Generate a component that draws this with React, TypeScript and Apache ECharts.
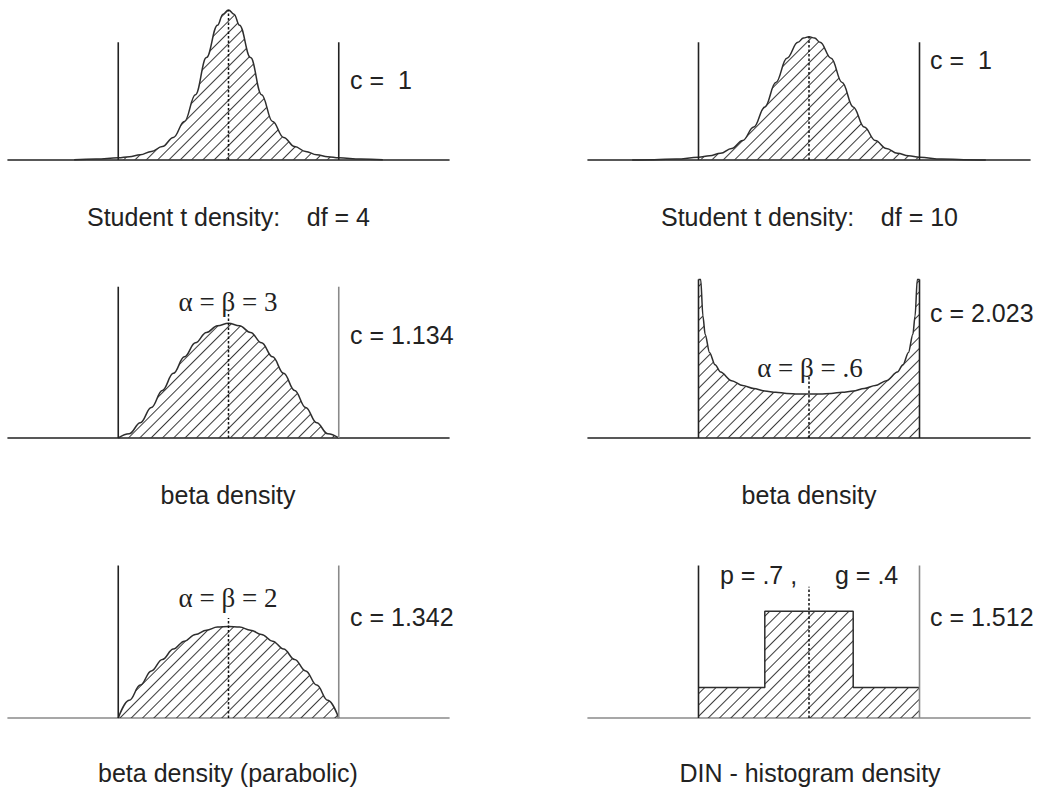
import React, { useEffect, useRef } from "react";
import * as echarts from "echarts";

// Student t, df = 4 (x rescaled so the two cut-offs sit at 0 and 1)
const t4X = [-0.2, -0.1, 0, 0.05, 0.1, 0.15, 0.2, 0.25, 0.3, 0.35, 0.4, 0.45, 0.475, 0.5, 0.525, 0.55, 0.6, 0.65, 0.7, 0.75, 0.8, 0.85, 0.9, 0.95, 1.0, 1.1, 1.2];
const t4Y = [0.006, 0.015, 0.036, 0.055, 0.087, 0.14, 0.22, 0.37, 0.63, 1.07, 1.68, 2.21, 2.39, 2.46, 2.39, 2.21, 1.68, 1.07, 0.63, 0.37, 0.22, 0.14, 0.087, 0.055, 0.036, 0.015, 0.006];

// Student t, df = 10
const t10X = [-0.3, -0.2, -0.1, 0, 0.05, 0.1, 0.15, 0.2, 0.25, 0.3, 0.35, 0.4, 0.45, 0.475, 0.5, 0.525, 0.55, 0.6, 0.65, 0.7, 0.75, 0.8, 0.85, 0.9, 0.95, 1.0, 1.1, 1.2, 1.3];
const t10Y = [0.002, 0.006, 0.016, 0.045, 0.068, 0.11, 0.19, 0.32, 0.54, 0.87, 1.27, 1.67, 1.93, 2.0, 2.02, 2.0, 1.93, 1.67, 1.27, 0.87, 0.54, 0.32, 0.19, 0.11, 0.068, 0.045, 0.016, 0.006, 0.002];

// beta densities on [0, 1]
const betaX = [0, 0.05, 0.1, 0.15, 0.2, 0.25, 0.3, 0.35, 0.4, 0.45, 0.5, 0.55, 0.6, 0.65, 0.7, 0.75, 0.8, 0.85, 0.9, 0.95, 1];
const beta33Y = [0, 0.07, 0.25, 0.5, 0.78, 1.06, 1.33, 1.56, 1.73, 1.84, 1.88, 1.84, 1.73, 1.56, 1.33, 1.06, 0.78, 0.5, 0.25, 0.07, 0];
const beta22Y = [0, 0.29, 0.54, 0.77, 0.96, 1.13, 1.26, 1.37, 1.44, 1.49, 1.5, 1.49, 1.44, 1.37, 1.26, 1.13, 0.96, 0.77, 0.54, 0.29, 0];

const beta06X = [0, 0.01, 0.02, 0.03, 0.05, 0.075, 0.1, 0.15, 0.2, 0.25, 0.3, 0.35, 0.4, 0.45, 0.5, 0.55, 0.6, 0.65, 0.7, 0.75, 0.8, 0.85, 0.9, 0.925, 0.95, 0.97, 0.98, 0.99, 1];
const beta06Y = [2.6, 2.6, 2.0, 1.7, 1.4, 1.2, 1.08, 0.94, 0.86, 0.81, 0.77, 0.75, 0.73, 0.72, 0.72, 0.72, 0.73, 0.75, 0.77, 0.81, 0.86, 0.94, 1.08, 1.2, 1.4, 1.7, 2.0, 2.6, 2.6];

// DIN histogram density: p = .7 of the mass on the middle g = .4
const histX = [0, 0.3, 0.3, 0.7, 0.7, 1];
const histY = [0.5, 0.5, 1.75, 1.75, 0.5, 0.5];

// heights of the cut-off lines and of the dotted centre line, per panel
const cutoffTop = [1.93, 1.93, 2.48, 2.6, 2.5, 2.5];
const centerTop = [2.46, 2.02, 2.07, 1.03, 1.64, 2.15];

const INK = "#222";
const GREY = "#8a8a8a";
const Y_MAX = 2.6;
const PX_PER_UNIT = 61;
const GRID_H = Y_MAX * PX_PER_UNIT;
const BASELINES = [160, 438, 718];
const COL_LEFT = [8, 588];
const COL_W = [441, 442];

const baseColor = [INK, INK, INK, INK, GREY, GREY];
const leftCutColor = [INK, INK, INK, INK, INK, INK];
const rightCutColor = [INK, INK, GREY, INK, GREY, GREY];

const HATCH = {
  symbol: "rect",
  symbolSize: 1,
  symbolKeepAspect: false,
  color: "#3a3a3a",
  backgroundColor: null,
  dashArrayX: [1, 0],
  dashArrayY: [1, 7],
  rotation: -Math.PI / 4,
  maxTileWidth: 512,
  maxTileHeight: 512,
};

const zip = (xs: number[], ys: number[]) => xs.map((x, i) => [x, ys[i]]);

function buildOption() {
  const grid: any[] = [];
  const xAxis: any[] = [];
  const yAxis: any[] = [];
  const series: any[] = [];

  for (let i = 0; i < 6; i++) {
    const row = Math.floor(i / 2);
    const col = i % 2;
    grid.push({
      left: COL_LEFT[col],
      width: COL_W[col],
      top: BASELINES[row] - GRID_H,
      height: GRID_H,
      containLabel: false,
    });
    xAxis.push({
      type: "value",
      gridIndex: i,
      min: -0.5,
      max: 1.5,
      axisLine: { show: true, onZero: false, lineStyle: { color: baseColor[i], width: 1.6 } },
      axisTick: { show: false },
      axisLabel: { show: false },
      splitLine: { show: false },
    });
    yAxis.push({ type: "value", gridIndex: i, min: 0, max: Y_MAX, show: false });
  }

  const curveLine = { color: "#2e2e2e", width: 1.5 };
  const base = (i: number) => ({
    type: "line",
    xAxisIndex: i,
    yAxisIndex: i,
    symbol: "none",
    silent: true,
    clip: false,
  });

  // hatched region under a density, without its outline
  const hatchArea = (i: number, data: number[][], smooth: number | boolean) => ({
    ...base(i),
    data,
    smooth,
    smoothMonotone: "x",
    lineStyle: { width: 0, color: "rgba(0,0,0,0)" },
    itemStyle: { color: "#333", decal: HATCH },
    areaStyle: { color: "rgba(255,255,255,0)", opacity: 1, origin: "start" },
    z: 2,
  });
  // density outline drawn above the hatching
  const outline = (i: number, data: number[][], smooth: number | boolean) => ({
    ...base(i),
    data,
    smooth,
    smoothMonotone: "x",
    lineStyle: curveLine,
    z: 3,
  });

  // t densities: full curve with tails, hatching only between the cut-offs
  const tPanels: [number, number[], number[]][] = [
    [0, t4X, t4Y],
    [1, t10X, t10Y],
  ];
  tPanels.forEach(([i, xs, ys]) => {
    const pts = zip(xs, ys);
    series.push(hatchArea(i, pts.filter((p) => p[0] >= 0 && p[0] <= 1), 0.4));
    series.push(outline(i, pts, 0.4));
  });

  const others: [number, number[][], number | boolean][] = [
    [2, zip(betaX, beta33Y), 0.4],
    [3, zip(beta06X, beta06Y), 0.3],
    [4, zip(betaX, beta22Y), 0.4],
    [5, zip(histX, histY), false],
  ];
  others.forEach(([i, pts, sm]) => {
    series.push(hatchArea(i, pts, sm));
    series.push(outline(i, pts, sm));
  });

  for (let i = 0; i < 6; i++) {
    series.push({
      ...base(i),
      data: [[0, 0], [0, cutoffTop[i]]],
      lineStyle: { color: leftCutColor[i], width: 1.6 },
      z: 4,
    });
    series.push({
      ...base(i),
      data: [[1, 0], [1, cutoffTop[i]]],
      lineStyle: { color: rightCutColor[i], width: 1.6 },
      z: 4,
    });
    series.push({
      ...base(i),
      data: [[0.5, 0], [0.5, centerTop[i]]],
      lineStyle: { color: "#111", width: 1.5, type: [2.5, 2] },
      z: 5,
    });
  }

  const sans = '25px "Liberation Sans", Arial, sans-serif';
  const serif = '27px "Liberation Serif", "Times New Roman", serif';
  const txt = (text: string, x: number, y: number, align: string, font = sans) => ({
    type: "text",
    x,
    y,
    silent: true,
    z: 10,
    style: { text, x: 0, y: 0, fill: INK, font, align, verticalAlign: "middle" },
  });

  const graphic = [
    txt("c =\u00a0\u00a01", 350, 80, "left"),
    txt("Student t density:", 87, 217, "left"),
    txt("df = 4", 370, 217, "right"),
    txt("c =\u00a0\u00a01", 930, 60, "left"),
    txt("Student t density:", 661, 217, "left"),
    txt("df = 10", 958, 217, "right"),

    txt("α = β = 3", 228, 302, "center", serif),
    txt("c = 1.134", 350, 335, "left"),
    txt("beta density", 228, 495, "center"),
    txt("α = β = .6", 810, 368, "center", serif),
    txt("c = 2.023", 930, 313, "left"),
    txt("beta density", 809, 495, "center"),

    txt("α = β = 2", 228, 598, "center", serif),
    txt("c = 1.342", 350, 617, "left"),
    txt("beta density (parabolic)", 228, 773, "center"),
    txt("p = .7 ,", 720, 575, "left"),
    txt("g = .4", 835, 575, "left"),
    txt("c = 1.512", 930, 617, "left"),
    txt("DIN - histogram density", 810, 773, "center"),
  ];

  return {
    animation: false,
    backgroundColor: "#fff",
    aria: { enabled: true, label: { enabled: false }, decal: { show: true } },
    grid,
    xAxis,
    yAxis,
    series,
    graphic,
  };
}

export default function App() {
  const ref = useRef<HTMLDivElement>(null);
  useEffect(() => {
    if (!ref.current) return;
    const chart = echarts.init(ref.current, null, { renderer: "svg" });
    chart.setOption(buildOption() as any);
    return () => chart.dispose();
  }, []);
  return (
    <div
      ref={ref}
      style={{ position: "absolute", left: 0, top: 0, width: 1042, height: 789 }}
    />
  );
}
